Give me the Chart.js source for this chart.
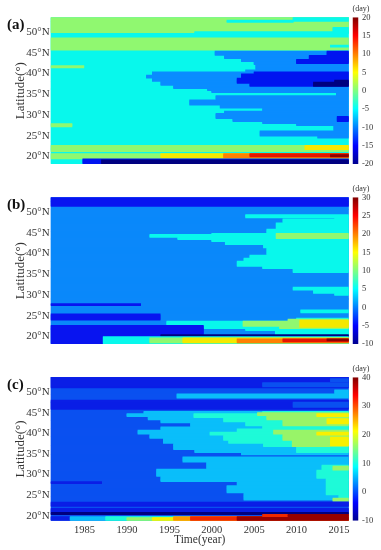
<!DOCTYPE html>
<html>
<head>
<meta charset="utf-8">
<script src="https://cdn.jsdelivr.net/npm/chart.js@4.4.0/dist/chart.umd.min.js"></script>
<style>
body { margin: 0; background: #fff; width: 381px; height: 550px; position: relative; overflow: hidden; font-family: "Liberation Serif", serif; }
canvas { position: absolute; }
.tag { position: absolute; left: 7px; font-weight: bold; font-size: 15px; line-height: 15px; color: #111; }
.unit { position: absolute; left: 346px; width: 30px; text-align: center; font-size: 8px; line-height: 8px; color: #333; }
</style>
</head>
<body>
<canvas id="mapA" width="352" height="170" style="left:0;top:0"></canvas>
<canvas id="barA" width="41" height="170" style="left:340px;top:0"></canvas>
<canvas id="mapB" width="352" height="170" style="left:0;top:180px"></canvas>
<canvas id="barB" width="41" height="170" style="left:340px;top:180px"></canvas>
<canvas id="mapC" width="352" height="190" style="left:0;top:360px"></canvas>
<canvas id="barC" width="41" height="190" style="left:340px;top:360px"></canvas>
<div class="tag" style="top:17px">(a)</div>
<div class="tag" style="top:197px">(b)</div>
<div class="tag" style="top:377px">(c)</div>
<div class="unit" style="top:5px">(day)</div>
<div class="unit" style="top:185px">(day)</div>
<div class="unit" style="top:365px">(day)</div>
<script>
// axes
const yearTicks = [1985, 1990, 1995, 2000, 2005, 2010, 2015];
const latTicks = [20, 25, 30, 35, 40, 45, 50];
const LAT_TOP = 53.6;

// colorbar ranges [min, max, step]
const scaleA = [-20, 20, 5];
const scaleB = [-10, 30, 5];
const scaleC = [-10, 40, 10];

// contour bin colours (lowest bin first)
const colorsA = ['#000080', '#0014f0', '#0a8cff', '#08f8ec', '#90f870', '#f5e800', '#ff8000', '#e61400', '#8c0000'];
const colorsB = ['#000080', '#0814f0', '#0a88fa', '#08f8ec', '#90f870', '#f5e800', '#ff8000', '#e61400', '#8c0000'];
const colorsC = ['#000080', '#0a1ee6', '#0a50f0', '#0abefa', '#1efad8', '#98f468', '#f8f000', '#ff9600', '#f02800', '#960000'];

// filled regions: [lat from, lat to, year from, year to, bin]
const mapA = [
  [18, 54, 1981, 2017, 3],
  [49.8, 53.7, 1981, 2017, 4],
  [52.6, 53.7, 2009.6, 2017, 3],
  [52.5, 52.9, 2001.8, 2009.6, 3],
  [50.0, 51.2, 2014.3, 2017, 3],
  [49.6, 50.2, 1998, 2017, 3],
  [45.7, 48.6, 1981, 2017, 4],
  [46.4, 47.0, 2014, 2017, 3],
  [44.5, 45.3, 2000.4, 2017, 2],
  [43.7, 44.5, 2001.5, 2017, 2],
  [42.9, 43.7, 2003.5, 2017, 2],
  [42.1, 42.9, 2005, 2017, 2],
  [40.9, 42.1, 2005.2, 2017, 2],
  [40.3, 40.9, 2004, 2017, 2],
  [39.7, 40.4, 1993, 2017, 2],
  [38.9, 39.7, 1992.3, 2017, 2],
  [38.1, 38.9, 1993, 2017, 2],
  [37.2, 38.1, 1994, 2017, 2],
  [36.4, 37.2, 1995.5, 2017, 2],
  [36.0, 36.4, 1999.5, 2017, 2],
  [35.4, 36.0, 2000, 2017, 2],
  [34.6, 35.4, 2014.7, 2017, 2],
  [33.6, 34.6, 2000.5, 2017, 2],
  [32.4, 33.6, 1997.4, 2017, 2],
  [31.6, 32.4, 2001, 2017, 2],
  [30.8, 31.6, 2006, 2017, 2],
  [30.4, 30.8, 2001.5, 2017, 2],
  [29.2, 30.4, 2000.5, 2017, 2],
  [28.4, 29.2, 2002.5, 2017, 2],
  [28.0, 28.4, 2006, 2017, 2],
  [27.3, 28.0, 2010, 2017, 2],
  [26.2, 27.3, 2014.4, 2017, 2],
  [25.0, 26.2, 2005.7, 2017, 2],
  [24.5, 25.0, 2012.5, 2017, 2],
  [44.5, 45.3, 2013.6, 2017, 1],
  [43.3, 44.5, 2011.5, 2017, 1],
  [42.5, 43.3, 2010, 2017, 1],
  [39.9, 40.4, 2005, 2017, 1],
  [38.9, 39.9, 2003.5, 2017, 1],
  [37.7, 38.9, 2003, 2017, 1],
  [36.9, 37.7, 2004.5, 2017, 1],
  [36.9, 38.0, 2012, 2017, 0],
  [38.0, 38.5, 2014.5, 2017, 0],
  [28.4, 29.6, 2014.8, 2017, 1],
  [41.3, 41.9, 1981, 1984.9, 4],
  [27.2, 28.0, 1981, 1983.5, 4],
  [21.1, 22.7, 1981, 2017, 4],
  [21.7, 22.6, 2011, 2017, 5],
  [19.5, 20.7, 1981, 2017, 4],
  [19.6, 20.6, 1994, 2017, 5],
  [19.7, 20.6, 2001.4, 2017, 6],
  [19.8, 20.6, 2004.5, 2017, 7],
  [19.9, 20.5, 2014, 2017, 8],
  [18.1, 19.5, 1984.8, 2017, 1],
  [18.1, 19.2, 1987, 2017, 0]
];

const mapB = [
  [18, 54, 1981, 2017, 2],
  [51.4, 53.7, 1981, 2017, 1],
  [48.7, 49.4, 2004, 2017, 3],
  [48.5, 48.9, 2014.5, 2017, 3],
  [47.3, 48.5, 2008.4, 2017, 3],
  [46.0, 47.3, 2007.6, 2017, 3],
  [45.0, 46.0, 2006.5, 2017, 3],
  [44.7, 45.0, 2000, 2017, 3],
  [43.9, 44.7, 1992.7, 2017, 3],
  [43.4, 43.9, 1996, 2017, 3],
  [42.9, 43.4, 2000, 2017, 3],
  [42.1, 42.9, 2001.6, 2017, 3],
  [41.3, 42.1, 2006.1, 2017, 3],
  [39.7, 41.3, 2006.5, 2017, 3],
  [38.9, 39.7, 2004.5, 2017, 3],
  [38.1, 38.9, 2003.8, 2017, 3],
  [37.0, 38.1, 2003, 2017, 3],
  [36.4, 37.0, 2006, 2017, 3],
  [35.3, 36.4, 2009.6, 2017, 3],
  [43.6, 45.0, 2007.6, 2017, 4],
  [31.2, 32.0, 2009.6, 2017, 3],
  [30.4, 31.2, 2012, 2017, 3],
  [29.8, 30.4, 2014.5, 2017, 3],
  [25.6, 26.5, 2010.5, 2017, 3],
  [27.3, 28.0, 1981, 1991.6, 1],
  [24.0, 25.4, 1981, 1993.9, 1],
  [23.6, 24.3, 2010, 2017, 3],
  [22.7, 23.6, 1994.7, 2017, 3],
  [22.0, 22.7, 1999, 2017, 3],
  [21.5, 22.0, 2004, 2017, 3],
  [20.5, 21.5, 2007.5, 2017, 3],
  [22.5, 23.6, 2003.7, 2017, 4],
  [21.8, 22.5, 2008, 2017, 4],
  [23.6, 24.1, 2009, 2017, 4],
  [22.1, 23.9, 2010.4, 2017, 5],
  [20.5, 22.7, 1981, 1999, 1],
  [19.9, 20.5, 1981, 1994, 1],
  [18.1, 19.9, 1981, 1987.2, 1],
  [19.9, 20.5, 1994, 2017, 0],
  [18.1, 19.9, 1987.2, 2017, 3],
  [18.3, 19.7, 1992.7, 2017, 4],
  [18.4, 19.6, 1996.6, 2017, 5],
  [18.5, 19.5, 2003, 2017, 6],
  [18.6, 19.4, 2008.4, 2017, 7],
  [18.8, 19.3, 2013.6, 2017, 8]
];

const mapC = [
  [18, 54, 1981, 2017, 2],
  [51.0, 53.7, 1981, 2017, 1],
  [51.4, 52.4, 2006, 2017, 2],
  [52.6, 53.4, 2014, 2017, 2],
  [48.6, 49.5, 1995.9, 2017, 3],
  [49.5, 50.5, 2014.5, 2017, 3],
  [45.9, 48.1, 1981, 2017, 1],
  [46.4, 47.5, 2009.6, 2017, 2],
  [44.9, 45.4, 1992, 2017, 3],
  [44.1, 44.9, 1990, 2017, 3],
  [43.3, 44.1, 1992.5, 2017, 3],
  [42.5, 43.3, 1994, 2017, 3],
  [41.5, 42.5, 1997.5, 2017, 3],
  [40.7, 41.5, 1994, 2017, 3],
  [39.7, 40.7, 1991.3, 2017, 3],
  [38.7, 39.7, 1992.7, 2017, 3],
  [37.5, 38.7, 1994.3, 2017, 3],
  [36.0, 37.5, 1995.5, 2017, 3],
  [35.4, 36.0, 1998, 2017, 3],
  [34.8, 35.4, 2003.5, 2017, 3],
  [33.0, 34.2, 1996.6, 2017, 3],
  [31.2, 33.0, 1999.4, 2017, 3],
  [29.6, 31.2, 1993.5, 2017, 3],
  [28.4, 29.6, 1994, 2017, 3],
  [27.2, 28.4, 2003, 2017, 3],
  [25.5, 27.2, 2001.8, 2017, 3],
  [23.9, 25.5, 2003.8, 2017, 3],
  [44.7, 45.2, 2006, 2017, 4],
  [43.9, 44.7, 1997.9, 2017, 4],
  [42.7, 43.9, 2001.4, 2017, 4],
  [41.9, 42.7, 2004, 2017, 4],
  [41.1, 41.9, 2006, 2017, 4],
  [40.3, 41.1, 2003, 2017, 4],
  [39.5, 40.3, 1999.8, 2017, 4],
  [38.3, 39.5, 2001.4, 2017, 4],
  [37.5, 38.3, 2002, 2017, 4],
  [36.7, 37.5, 2006.1, 2017, 4],
  [35.4, 36.7, 2010, 2017, 4],
  [31.0, 32.2, 2013, 2017, 4],
  [29.0, 31.0, 2012.4, 2017, 4],
  [25.0, 29.0, 2013.5, 2017, 4],
  [24.0, 25.0, 2015, 2017, 4],
  [44.3, 45.0, 2005.4, 2017, 5],
  [43.3, 44.3, 2006.5, 2017, 5],
  [41.9, 43.3, 2008.4, 2017, 5],
  [39.7, 40.7, 2007.3, 2017, 5],
  [38.3, 39.7, 2008.4, 2017, 5],
  [36.8, 38.3, 2009.5, 2017, 5],
  [31.0, 32.0, 2014.3, 2017, 5],
  [23.5, 24.3, 2014.3, 2017, 5],
  [44.0, 44.9, 2012.4, 2017, 6],
  [42.3, 43.5, 2013.6, 2017, 6],
  [39.5, 40.3, 2012.4, 2017, 6],
  [37.0, 39.0, 2014, 2017, 6],
  [27.7, 28.2, 1981, 1987, 1],
  [22.3, 23.3, 1981, 2017, 1],
  [20.7, 21.7, 1981, 2017, 1],
  [20.3, 20.7, 1981, 2017, 0],
  [18.8, 19.9, 1981, 1983.3, 1],
  [18.8, 19.8, 1983.3, 2017, 3],
  [18.8, 19.7, 1987.5, 2017, 4],
  [18.8, 19.6, 1990, 2017, 5],
  [18.8, 19.6, 1993, 2017, 6],
  [18.8, 19.7, 1995.5, 2017, 7],
  [18.8, 19.8, 1997.5, 2017, 8],
  [18.8, 19.8, 2003, 2017, 9],
  [19.8, 20.3, 2006, 2017, 8],
  [19.9, 20.2, 2009, 2017, 9]
];

const JET = ['#00008f', '#0000ff', '#0080ff', '#00ffff', '#80ff80', '#ffff00', '#ff8000', '#ff0000', '#800000'];
const ROW = 0.25;
const FONT = "'Liberation Serif', serif";
const INK = '#333';

const noPad = (ax) => { ax.paddingTop = 0; ax.paddingBottom = 0; ax.paddingLeft = 0; ax.paddingRight = 0; };

const drawMap = (id, rects, colors, yMin, showX) => {
	// each region becomes one floating bar per latitude row
	const data = [], fill = [];
	const rows = Math.ceil((LAT_TOP - yMin) / ROW);
	rects.forEach(([lat0, lat1, t0, t1, bin]) => {
		const k0 = Math.max(0, Math.round((lat0 - yMin) / ROW));
		const k1 = Math.min(rows, Math.round((lat1 - yMin) / ROW));
		for (let k = k0; k < k1; k++) {
			data.push({ y: yMin + (k + 0.5) * ROW, x: [t0, t1] });
			fill.push(colors[bin]);
		}
	});
	new Chart(document.getElementById(id), {
		type: 'bar',
		data: { datasets: [{ data, backgroundColor: fill, borderWidth: 0, barPercentage: 1, categoryPercentage: 1, inflateAmount: 0.4 }] },
		options: {
			indexAxis: 'y',
			responsive: false,
			animation: false,
			events: [],
			layout: { padding: { top: 17.3, right: 3.3, bottom: showX ? 0 : 6, left: 0 } },
			plugins: { legend: { display: false }, tooltip: { enabled: false } },
			scales: {
				x: {
					type: 'linear', min: 1981, max: 2016.15, display: showX, offset: false,
					grid: { display: false, drawTicks: false },
					border: { display: false },
					ticks: { padding: 3, color: INK, font: { family: FONT, size: 10.5 }, callback: v => String(v) },
					title: { display: true, text: 'Time(year)', color: INK, font: { family: FONT, size: 11.5 }, padding: { top: 0, bottom: 3 } },
					afterBuildTicks: (ax) => { ax.ticks = yearTicks.map(v => ({ value: v })); },
					afterFit: (ax) => { if (showX) ax.height = 29.3; noPad(ax); }
				},
				y: {
					type: 'linear', min: yMin, max: LAT_TOP, offset: false,
					grid: { display: false, drawTicks: false },
					border: { display: false },
					ticks: { padding: 1, color: INK, font: { family: FONT, size: 11 }, callback: v => v + '°N' },
					title: { display: true, text: 'Latitude(°)', color: INK, font: { family: FONT, size: 13 }, padding: { top: 13, bottom: 0 } },
					afterBuildTicks: (ax) => { ax.ticks = latTicks.map(v => ({ value: v })); },
					afterFit: (ax) => { ax.width = 50.7; noPad(ax); }
				}
			}
		}
	});
};

const jetFill = (ctx) => {
	const area = ctx.chart.chartArea;
	if (!area) return JET[0];
	const g = ctx.chart.ctx.createLinearGradient(0, area.bottom, 0, area.top);
	JET.forEach((c, i) => g.addColorStop(i / (JET.length - 1), c));
	return g;
};

const drawScale = (id, [min, max, step], bottomPad) => {
	new Chart(document.getElementById(id), {
		type: 'bar',
		data: { labels: [''], datasets: [{ data: [[min, max]], backgroundColor: jetFill, borderWidth: 0, barPercentage: 1, categoryPercentage: 1, inflateAmount: 0 }] },
		options: {
			responsive: false,
			animation: false,
			events: [],
			layout: { padding: { top: 17.3, right: 0, bottom: bottomPad, left: 12.5 } },
			plugins: { legend: { display: false }, tooltip: { enabled: false } },
			scales: {
				x: { display: false },
				y: {
					position: 'right', min, max,
					grid: { display: false, drawTicks: false },
					border: { display: false },
					ticks: { stepSize: step, padding: 3.5, color: INK, font: { family: FONT, size: 8.5 } },
					afterFit: (ax) => { ax.width = 22.5; noPad(ax); }
				}
			}
		}
	});
};

drawMap('mapA', mapA, colorsA, 18.15, false);
drawMap('mapB', mapB, colorsB, 18.15, false);
drawMap('mapC', mapC, colorsC, 18.8, true);
drawScale('barA', scaleA, 6);
drawScale('barB', scaleB, 6);
drawScale('barC', scaleC, 29.3);
</script>
</body>
</html>
